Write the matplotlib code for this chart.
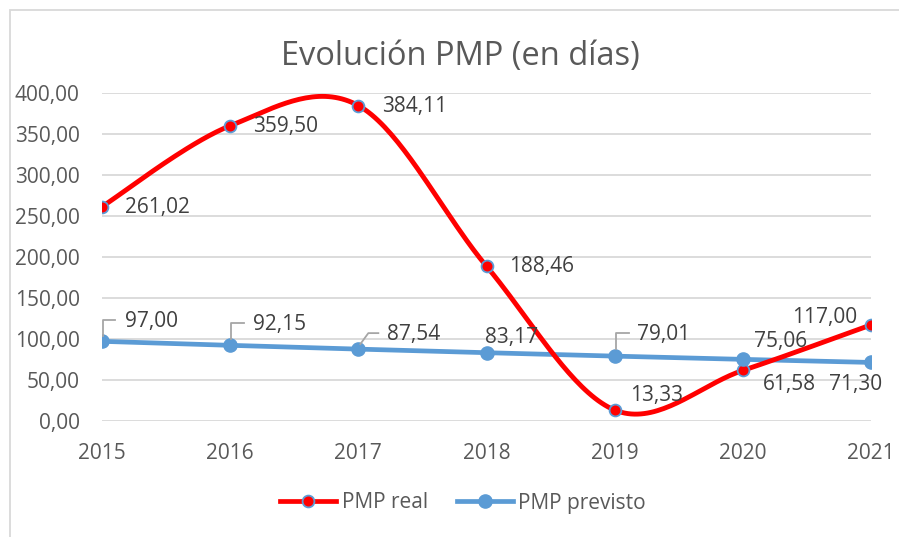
import numpy as np
import matplotlib
matplotlib.use("Agg")
import matplotlib.pyplot as plt
from matplotlib.lines import Line2D
from matplotlib.patches import Rectangle

# ---- data ----
years = ["2015", "2016", "2017", "2018", "2019", "2020", "2021"]
pmp_real = [261.02, 359.50, 384.11, 188.46, 13.33, 61.58, 117.00]
pmp_previsto = [97.00, 92.15, 87.54, 83.17, 79.01, 75.06, 71.30]
y_ticks = [0, 50, 100, 150, 200, 250, 300, 350, 400]
title = "Evolución PMP (en días)"
series_names = ["PMP real", "PMP previsto"]

# ---- style ----
W, H = 899, 537
FONT = ["Open Sans", "DejaVu Sans"]
TXT = "#595959"
LBL = "#404040"
GRID = "#D9D9D9"
RED = "#FF0000"
BLUE = "#5B9BD5"
plt.rcParams["font.family"] = FONT

fig = plt.figure(figsize=(W / 100, H / 100), dpi=100)
ax = fig.add_axes([102 / W, 1 - 421 / H, (871 - 102) / W, (421 - 92.5) / H])

x = np.arange(len(years))


def excel_smooth(xs, ys, n=40):
    xs = np.asarray(xs, float)
    ys = np.asarray(ys, float)
    P = np.column_stack([xs, ys])
    out = []
    for i in range(len(P) - 1):
        p0 = P[i - 1] if i > 0 else P[i]
        p1 = P[i]
        p2 = P[i + 1]
        p3 = P[i + 2] if i + 2 < len(P) else P[i + 1]
        c1 = p1 + (p2 - p0) / 6
        c2 = p2 - (p3 - p1) / 6
        t = np.linspace(0, 1, n)[:, None]
        seg = ((1 - t) ** 3) * p1 + 3 * ((1 - t) ** 2) * t * c1 + 3 * (1 - t) * t ** 2 * c2 + t ** 3 * p2
        out.append(seg if i == 0 else seg[1:])
    s = np.vstack(out)
    return s[:, 0], s[:, 1]


# blue series
ax.plot(x, pmp_previsto, color=BLUE, lw=3.4, solid_capstyle="round", zorder=3)
ax.plot(x, pmp_previsto, ls="none", marker="o", ms=9.5, mfc=BLUE, mec=BLUE, zorder=7)

# red smoothed series
sx, sy = excel_smooth(x, pmp_real)
ax.plot(sx, sy, color=RED, lw=3.5, solid_capstyle="round", zorder=5)
ax.plot(x, pmp_real, ls="none", marker="o", ms=8.5, mfc=RED, mec=BLUE, mew=1.3, zorder=6)

ax.set_xlim(0, len(years) - 1)
ax.set_ylim(0, 400)
ax.set_yticks(y_ticks)
ax.set_yticklabels([f"{v:.2f}".replace(".", ",") for v in y_ticks])
ax.set_xticks(x)
ax.set_xticklabels(years)
ax.grid(axis="y", color=GRID, lw=1.3)
ax.set_axisbelow(True)
for s in ["top", "right", "left", "bottom"]:
    ax.spines[s].set_visible(False)
ax.tick_params(axis="both", length=0, labelsize=15, colors=TXT)
ax.tick_params(axis="y", pad=16)
ax.tick_params(axis="x", pad=16)
for lbl in ax.get_xticklabels() + ax.get_yticklabels():
    lbl.set_color(TXT)


def fmt(v):
    return f"{v:.2f}".replace(".", ",")


# label offsets in pixels (dx, dy image-down), alignment
red_off = [(23, 1, "left"), (23, 1, "left"), (24, 1, "left"), (23, 0, "left"),
           (15, -15, "left"), (20, 14, "left"), (-14, -7, "right")]
blue_off = [(23, -20, "left"), (23, -21, "left"), (29, -15, "left"), (-1, -15, "left"),
            (22, -22, "left"), (11, -18, "left"), (11, 22, "right")]
# leader lines (pixel offsets from point, image-down)
leaders = {0: [(1, -5), (1, -21), (13, -21)],
           1: [(1, -6), (1, -22), (14, -22)],
           2: [(2, -5), (10, -16), (20, -16)],
           4: [(1, -7), (1, -23), (14, -23)]}

fig.canvas.draw()
for i, v in enumerate(pmp_real):
    dx, dy, ha = red_off[i]
    ax.annotate(fmt(v), (x[i], v), xytext=(dx, -dy), textcoords="offset pixels",
                ha=ha, va="center", fontsize=15, color=LBL, zorder=8)
for i, v in enumerate(pmp_previsto):
    dx, dy, ha = blue_off[i]
    ax.annotate(fmt(v), (x[i], v), xytext=(dx, -dy), textcoords="offset pixels",
                ha=ha, va="center", fontsize=15, color=LBL, zorder=8)
    if i in leaders:
        px, py = ax.transData.transform((x[i], v))
        pts = leaders[i]
        fig.add_artist(Line2D([px + a for a, b in pts], [py - b for a, b in pts],
                              transform=None, color="#A6A6A6", lw=1.3, zorder=9))

# title
fig.text(460 / W, 1 - 56 / H, title, ha="center", va="center", fontsize=23.5, color=TXT)

# legend
handles = [Line2D([], [], color=RED, lw=3.4, marker="o", ms=8.5, mfc=RED, mec=BLUE, mew=1.3),
           Line2D([], [], color=BLUE, lw=3.4, marker="o", ms=9.5, mfc=BLUE, mec=BLUE)]
leg = fig.legend(handles, series_names, loc="center", bbox_to_anchor=(463 / W, 1 - 503 / H),
                 ncol=2, frameon=False, fontsize=15, handlelength=2.7, handletextpad=0.25,
                 columnspacing=1.4, labelcolor=TXT)

# chart border
fig.add_artist(Rectangle((9.5 / W, -0.2), 2, 1.2 - 9.5 / H, transform=fig.transFigure,
                         fill=False, edgecolor=GRID, lw=1.3))

fig.savefig("out.png", dpi=100)
